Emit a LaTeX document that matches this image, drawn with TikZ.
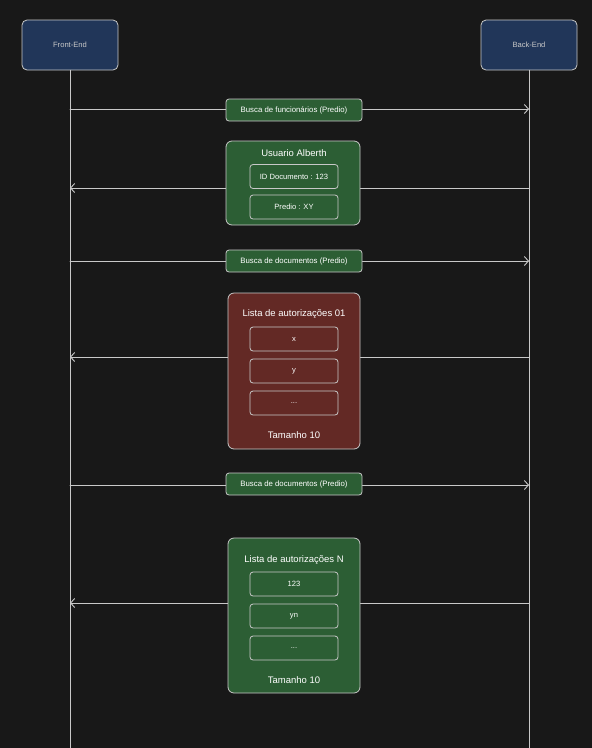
\documentclass[tikz,border=0pt]{standalone}
\usepackage{fontspec}
\setmainfont{Liberation Sans}
\usetikzlibrary{arrows.meta,positioning}
\definecolor{bgdark}{RGB}{24,24,24}
\definecolor{navybox}{RGB}{33,54,89}
\definecolor{greenbox}{RGB}{44,94,52}
\definecolor{redbox}{RGB}{99,41,37}
\definecolor{edgegrey}{RGB}{200,200,200}
\tikzset{
  actor/.style={draw=edgegrey, fill=navybox, rounded corners=5pt, line width=0.8pt,
    minimum width=96pt, minimum height=50pt, text=edgegrey, font=\fontsize{7.6}{8}\selectfont},
  msg/.style={draw=edgegrey, fill=greenbox, rounded corners=3pt, line width=0.8pt,
    minimum width=136pt, minimum height=22pt, text=white, font=\fontsize{7.8}{8}\selectfont},
  panel/.style={draw=edgegrey, fill=#1, rounded corners=6pt, line width=0.8pt,
    minimum width=132pt, inner sep=0pt},
  field/.style={draw=edgegrey, rounded corners=3pt, line width=0.8pt,
    minimum width=88pt, minimum height=24pt, text=white, font=\fontsize{7.6}{8}\selectfont},
  ptitle/.style={text=white, font=\fontsize{9.5}{10}\selectfont},
  life/.style={edgegrey, line width=0.9pt},
  call/.style={->, edgegrey, line width=0.9pt}
}
\begin{document}
\begin{tikzpicture}[x=1pt, y=-1pt, line join=round, line cap=round,
    >={Straight Barb[length=4pt,width=9pt]}]
  \fill[bgdark] (0,0) rectangle (592,748);
  \useasboundingbox (0,0) rectangle (592,748);

  % lifelines
  \node[actor] (front) at (70,45) {Front-End};
  \node[actor] (back) at (529,45) {Back-End};
  \coordinate (frontend) at (70,748);
  \coordinate (backend) at (529,748);
  \draw[life] (front.south) -- (frontend);
  \draw[life] (back.south) -- (backend);

  % calls and replies
  \coordinate (f1) at (70,109);  \coordinate (b1) at (529,109);
  \coordinate (f2) at (70,188);  \coordinate (b2) at (529,188);
  \coordinate (f3) at (70,261);  \coordinate (b3) at (529,261);
  \coordinate (f4) at (70,357);  \coordinate (b4) at (529,357);
  \coordinate (f5) at (70,485);  \coordinate (b5) at (529,485);
  \coordinate (f6) at (70,603);  \coordinate (b6) at (529,603);
  \draw[call] (f1) -- (b1);
  \draw[call] (b2) -- (f2);
  \draw[call] (f3) -- (b3);
  \draw[call] (b4) -- (f4);
  \draw[call] (f5) -- (b5);
  \draw[call] (b6) -- (f6);

  \node[msg] (m1) at (294,110) {Busca de funcionários (Predio)};
  \node[msg] (m3) at (294,261) {Busca de documentos (Predio)};
  \node[msg] (m5) at (294,484) {Busca de documentos (Predio)};

  % user
  \node[panel=greenbox, minimum width=134pt, minimum height=84pt] (user) at (293,183) {};
  \node[ptitle] (usertitle) at (294,153) {Usuario Alberth};
  \node[field] (userid) at (294,176.5) {ID Documento : 123};
  \node[field] (userpredio) at (294,207) {Predio : XY};

  % first page
  \node[panel=redbox, minimum height=156pt] (list1) at (294,371) {};
  \node[ptitle] (list1title) at (294,314) {Lista de autorizações 01};
  \node[field] (list1a) at (294,339) {x};
  \node[field] (list1b) at (294,371) {y};
  \node[field] (list1c) at (294,403) {...};
  \node[ptitle] (list1size) at (294,435) {Tamanho 10};

  % last page
  \node[panel=greenbox, minimum height=155pt] (listn) at (294,615.5) {};
  \node[ptitle] (listntitle) at (294,560) {Lista de autorizações N};
  \node[field] (listna) at (294,584) {123};
  \node[field] (listnb) at (294,616) {yn};
  \node[field] (listnc) at (294,648) {...};
  \node[ptitle] (listnsize) at (294,680) {Tamanho 10};
\end{tikzpicture}
\end{document}
